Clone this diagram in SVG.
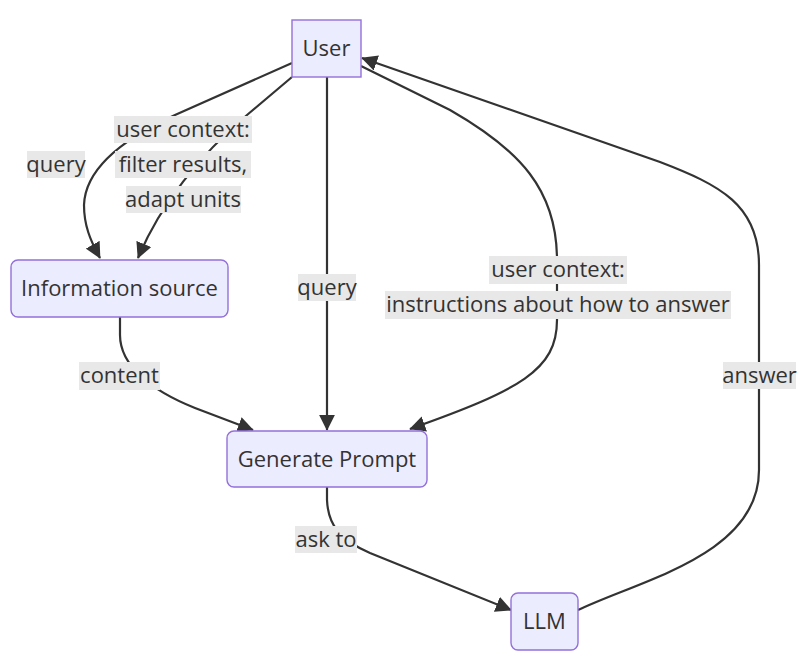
<svg xmlns="http://www.w3.org/2000/svg" width="810" height="667" viewBox="0 0 810 667">
<style>
.node rect{fill:#ECECFF;stroke:#9370DB;stroke-width:1.4}
.node text,.lbl text{font-family:"Open Sans","DejaVu Sans",sans-serif;font-size:22px;fill:#333;text-anchor:middle}
.edge{fill:none;stroke:#333;stroke-width:2.2;marker-end:url(#arr)}
.lbl rect{fill:#e8e8e8}
</style>
<defs>
<marker id="arr" viewBox="0 0 10 10" refX="9.5" refY="5" markerUnits="userSpaceOnUse" markerWidth="16" markerHeight="16" orient="auto">
<path d="M0,0 L10,5 L0,10 z" fill="#333"/>
</marker>
</defs>
<rect width="810" height="667" fill="#fff"/>
<g id="connectors">
<path class="edge" d="M292,63 L175,115 C110,145 85,175 84,205 C84,225 90,240 100,258"/>
<path class="edge" d="M292,77 L247,115 C200,155 160,205 138,258"/>
<path class="edge" d="M327,77 L327,430"/>
<path class="edge" d="M361,66 L450,110 C520,150 557,190 557,260 L557,320 C557,370 520,390 410,429"/>
<path class="edge" d="M120,317 L120,335 C120,365 150,390 195,408 L253,430"/>
<path class="edge" d="M327,487 L327,500 C328,525 340,540 370,553 L511,610"/>
<path class="edge" d="M578,610 C640,580 759,555 759,470 L759,265 C759,205 720,185 660,162 L362,58"/>
</g>
<g id="edge-labels">
<g class="lbl"><rect x="27" y="151" width="58" height="27"/><text x="56" y="172">query</text></g>
<g class="lbl"><rect x="114" y="116" width="138" height="27"/><text x="183" y="137">user context:</text>
<rect x="115" y="151" width="136" height="27"/><text x="183" y="172">filter results,</text>
<rect x="126" y="186" width="115" height="27"/><text x="183" y="207">adapt units</text></g>
<g class="lbl"><rect x="298" y="274" width="58" height="27"/><text x="327" y="295">query</text></g>
<g class="lbl"><rect x="489" y="256" width="138" height="28"/><text x="558" y="277">user context:</text>
<rect x="385" y="291" width="346" height="28"/><text x="558" y="312">instructions about how to answer</text></g>
<g class="lbl"><rect x="79" y="362" width="81" height="28"/><text x="119.5" y="383">content</text></g>
<g class="lbl"><rect x="723" y="362" width="73" height="27"/><text x="759.5" y="383">answer</text></g>
<g class="lbl"><rect x="295" y="526" width="62" height="27"/><text x="326" y="547">ask to</text></g>
</g>
<g id="node-user" class="node"><rect x="292" y="20" width="69" height="57"/><text x="326.5" y="56">User</text></g>
<g id="node-info" class="node"><rect x="11" y="260" width="217" height="57" rx="7"/><text x="119.5" y="296">Information source</text></g>
<g id="node-prompt" class="node"><rect x="227" y="431" width="200" height="56" rx="7"/><text x="327" y="467">Generate Prompt</text></g>
<g id="node-llm" class="node"><rect x="511" y="593" width="67" height="57" rx="7"/><text x="544.5" y="629">LLM</text></g>
</svg>
